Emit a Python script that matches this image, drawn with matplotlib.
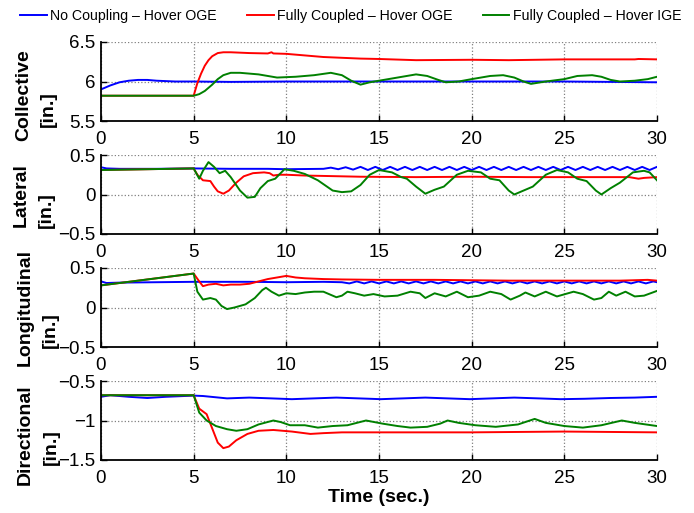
import numpy as np
import matplotlib
matplotlib.use("Agg")
from matplotlib import pyplot as plt

plt.rcParams['font.family'] = ['Liberation Sans', 'DejaVu Sans']

labels = ['No Coupling \u2013 Hover OGE', 'Fully Coupled \u2013 Hover OGE', 'Fully Coupled \u2013 Hover IGE']
colors = ['#0000ff', '#ff0000', '#008000']

# collective
col_t_blue = [0, 0.5, 1, 1.5, 2, 2.5, 3, 4, 5, 7, 10, 15, 20, 25, 30]
col_v_blue = [5.90, 5.95, 5.99, 6.01, 6.02, 6.02, 6.01, 6.0, 6.0, 5.995, 6.0, 6.0, 6.0, 6.0, 5.99]
col_t_red = [0, 5, 5.2, 5.4, 5.6, 5.8, 6.0, 6.3, 6.6, 7, 8, 9, 9.2, 9.3, 10, 11, 12, 13, 14, 15, 17, 20, 22, 25, 28.8, 29, 30]
col_v_red = [5.82, 5.82, 5.98, 6.1, 6.2, 6.27, 6.32, 6.36, 6.37, 6.37, 6.36, 6.355, 6.37, 6.355, 6.35, 6.33, 6.31,
             6.30, 6.29, 6.285, 6.27, 6.275, 6.27, 6.28, 6.28, 6.285, 6.28]
col_t_green = [0, 5, 5.3, 5.6, 6, 6.3, 6.6, 7, 7.5, 8.5, 9, 9.5, 10.5, 11.5, 12.4, 13, 13.5, 14, 14.5, 15.5, 16.5, 17,
               17.6, 18.2, 18.6, 19.3, 20, 21, 21.7, 22.3, 22.8, 23.2, 24, 25, 25.7, 26.5, 27, 27.5, 28, 28.8, 29.5, 30]
col_v_green = [5.82, 5.82, 5.84, 5.88, 5.96, 6.03, 6.08, 6.11, 6.11, 6.09, 6.07, 6.05, 6.06, 6.08, 6.11, 6.08, 6.01,
               5.96, 5.99, 6.03, 6.07, 6.09, 6.07, 6.02, 5.99, 6.0, 6.03, 6.07, 6.08, 6.05, 6.0, 5.97, 6.0, 6.03, 6.07,
               6.08, 6.06, 6.02, 6.0, 6.01, 6.03, 6.06]

# lateral
lat_t_blue = [0, 0.3, 1, 3, 5, 7, 9, 10, 12,
              12.4, 12.8, 13.2, 13.6, 14.0, 14.4, 14.8, 15.2, 15.6, 16.0, 16.4, 16.8, 17.2, 17.6, 18.0, 18.4,
              18.8, 19.2, 19.6, 20.0, 20.4, 20.8, 21.2, 21.6, 22.0, 22.4, 22.8, 23.2, 23.6, 24.0, 24.4, 24.8,
              25.2, 25.6, 26.0, 26.4, 26.8, 27.2, 27.6, 28.0, 28.4, 28.8, 29.2, 29.6, 30.0]
lat_v_blue = [0.345, 0.33, 0.325, 0.325, 0.33, 0.325, 0.325, 0.32, 0.325,
              0.34, 0.32, 0.345, 0.315, 0.35, 0.31, 0.35, 0.31, 0.35, 0.31, 0.35, 0.31, 0.35, 0.31, 0.35, 0.31,
              0.35, 0.31, 0.35, 0.31, 0.35, 0.31, 0.35, 0.31, 0.35, 0.31, 0.35, 0.31, 0.35, 0.31, 0.35, 0.31,
              0.35, 0.31, 0.35, 0.31, 0.35, 0.31, 0.35, 0.31, 0.35, 0.31, 0.35, 0.31, 0.35]
lat_t_red = [0, 5, 5.2, 5.5, 5.9, 6.1, 6.3, 6.6, 6.9, 7.3, 7.7, 8.2, 8.8, 9.1, 9.3, 9.6, 10, 11, 12, 14, 17, 20, 23,
             26, 28.5, 29, 29.3, 30]
lat_v_red = [0.31, 0.33, 0.25, 0.18, 0.17, 0.1, 0.04, 0.01, 0.05, 0.15, 0.23, 0.27, 0.28, 0.27, 0.24, 0.25, 0.25,
             0.24, 0.235, 0.225, 0.22, 0.225, 0.22, 0.22, 0.22, 0.2, 0.21, 0.22]
lat_t_green = [0, 5, 5.3, 5.5, 5.8, 6.1, 6.4, 6.7, 7.0, 7.5, 7.9, 8.3, 8.6, 9.0, 9.4, 9.9, 10.4, 11.0, 11.7, 12.5,
               13.0, 13.5, 14.0, 14.5, 15.0, 15.7, 16.2, 16.5, 17.0, 17.5, 18.0, 18.5, 19.2, 19.8, 20.5, 21.0, 21.5,
               22.0, 22.3, 22.8, 23.3, 24.0, 24.6, 25.2, 25.7, 26.2, 26.7, 27.0, 27.5, 28.0, 28.7, 29.3, 29.6, 30.0]
lat_v_green = [0.31, 0.33, 0.2, 0.3, 0.41, 0.35, 0.27, 0.3, 0.22, 0.05, -0.04, -0.03, 0.08, 0.17, 0.2, 0.32, 0.3,
               0.26, 0.18, 0.05, 0.03, 0.04, 0.12, 0.25, 0.31, 0.28, 0.22, 0.2, 0.1, 0.01, 0.06, 0.1, 0.25, 0.3,
               0.28, 0.2, 0.18, 0.05, 0.0, 0.05, 0.1, 0.25, 0.31, 0.28, 0.2, 0.17, 0.05, 0.0, 0.08, 0.15, 0.28,
               0.3, 0.28, 0.18]

# longitudinal
lon_t_blue = [0, 0.3, 1, 3, 5, 8, 10, 12, 13.0,
              13.4, 13.8, 14.2, 14.6, 15.0, 15.4, 15.8, 16.2, 16.6, 17.0, 17.4, 17.8, 18.2, 18.6, 19.0, 19.4,
              19.8, 20.2, 20.6, 21.0, 21.4, 21.8, 22.2, 22.6, 23.0, 23.4, 23.8, 24.2, 24.6, 25.0, 25.4, 25.8,
              26.2, 26.6, 27.0, 27.4, 27.8, 28.2, 28.6, 29.0, 29.4, 29.8, 30.0]
lon_v_blue = [0.33, 0.31, 0.315, 0.32, 0.325, 0.325, 0.32, 0.325, 0.32,
              0.305, 0.33, 0.305, 0.33, 0.305, 0.33, 0.305, 0.33, 0.305, 0.33, 0.305, 0.33, 0.305, 0.33, 0.305,
              0.33, 0.305, 0.33, 0.305, 0.33, 0.305, 0.33, 0.305, 0.33, 0.305, 0.33, 0.305, 0.33, 0.305, 0.33,
              0.305, 0.33, 0.305, 0.33, 0.305, 0.33, 0.305, 0.33, 0.305, 0.33, 0.305, 0.33, 0.32]
lon_t_red = [0, 5, 5.3, 5.5, 5.8, 6.2, 6.6, 7.0, 7.5, 8.0, 8.5, 9.0, 9.5, 10.0, 10.5, 11, 12, 13, 15, 18, 20, 22,
             25, 28, 29.5, 30]
lon_v_red = [0.28, 0.43, 0.33, 0.27, 0.29, 0.3, 0.28, 0.29, 0.29, 0.3, 0.33, 0.36, 0.38, 0.40, 0.38, 0.37, 0.36,
             0.355, 0.35, 0.35, 0.345, 0.34, 0.34, 0.34, 0.35, 0.34]
lon_t_green = [0, 5, 5.2, 5.5, 5.9, 6.2, 6.5, 6.8, 7.2, 7.8, 8.3, 8.7, 8.9, 9.2, 9.6, 10.0, 10.5, 11.0, 11.5, 12.0,
               12.7, 13.0, 13.3, 13.7, 14.2, 14.7, 15.3, 16.0, 16.7, 17.2, 17.5, 18.0, 18.6, 19.2, 19.8, 20.4,
               21.0, 21.6, 22.1, 22.6, 22.9, 23.4, 24.0, 24.6, 25.5, 26.0, 26.6, 27.0, 27.4, 27.8, 28.3, 28.8,
               29.3, 30.0]
lon_v_green = [0.28, 0.43, 0.2, 0.1, 0.12, 0.1, 0.02, -0.02, 0.0, 0.04, 0.12, 0.22, 0.25, 0.2, 0.15, 0.18, 0.17,
               0.19, 0.2, 0.2, 0.13, 0.15, 0.2, 0.18, 0.15, 0.17, 0.14, 0.15, 0.2, 0.18, 0.12, 0.18, 0.14, 0.2,
               0.13, 0.15, 0.2, 0.17, 0.1, 0.15, 0.19, 0.14, 0.2, 0.14, 0.2, 0.17, 0.1, 0.12, 0.2, 0.15, 0.2, 0.14,
               0.15, 0.21]

# directional
dir_t_blue = [0, 0.5, 1.5, 2.5, 3.5, 5, 5.5, 6.8, 8.0, 9.2, 10.3, 11.5, 12.7, 13.9, 15.1, 16.3, 17.5, 18.7, 19.9,
              21.1, 22.3, 23.6, 24.8, 26.1, 27.5, 28.8, 30]
dir_v_blue = [-0.70, -0.68, -0.70, -0.715, -0.70, -0.685, -0.69, -0.72, -0.71, -0.72, -0.73, -0.72, -0.71, -0.72,
              -0.73, -0.72, -0.71, -0.72, -0.73, -0.72, -0.71, -0.72, -0.73, -0.725, -0.715, -0.71, -0.70]
dir_t_red = [0, 5, 5.3, 5.7, 6.0, 6.3, 6.6, 6.9, 7.3, 7.9, 8.5, 9.3, 10.3, 11.3, 12, 13, 15, 20, 25, 30]
dir_v_red = [-0.68, -0.68, -0.85, -0.92, -1.1, -1.28, -1.35, -1.33, -1.25, -1.17, -1.13, -1.12, -1.14, -1.17,
             -1.16, -1.15, -1.15, -1.15, -1.14, -1.15]
dir_t_green = [0, 5, 5.3, 5.7, 6.2, 6.8, 7.3, 7.9, 8.5, 9.3, 9.7, 10.2, 11, 11.7, 12.5, 13.3, 14.3, 15.2, 16, 16.7,
               17.6, 18.3, 18.7, 19.3, 20.2, 21.3, 22.5, 23.4, 24, 25, 26, 27, 28.1, 28.8, 30]
dir_v_green = [-0.68, -0.68, -0.9, -1.0, -1.07, -1.11, -1.13, -1.11, -1.05, -1.0, -1.02, -1.06, -1.06, -1.09, -1.07,
               -1.06, -1.0, -1.04, -1.07, -1.09, -1.08, -1.04, -1.0, -1.03, -1.06, -1.08, -1.05, -0.98, -1.03,
               -1.07, -1.09, -1.06, -1.0, -1.03, -1.07]

names = ['Collective', 'Lateral', 'Longitudinal', 'Directional']
ylims = [(5.5, 6.5), (-0.5, 0.5), (-0.5, 0.5), (-1.5, -0.5)]
yticks = [[5.5, 6, 6.5], [-0.5, 0, 0.5], [-0.5, 0, 0.5], [-1.5, -1, -0.5]]
series = [
    [(col_t_blue, col_v_blue), (col_t_red, col_v_red), (col_t_green, col_v_green)],
    [(lat_t_blue, lat_v_blue), (lat_t_red, lat_v_red), (lat_t_green, lat_v_green)],
    [(lon_t_blue, lon_v_blue), (lon_t_red, lon_v_red), (lon_t_green, lon_v_green)],
    [(dir_t_blue, dir_v_blue), (dir_t_red, dir_v_red), (dir_t_green, dir_v_green)],
]

W, H = 694, 513
fig = plt.figure(figsize=(W / 100, H / 100), dpi=100)
left, right = 101, 657
tops = [42, 155, 268, 381]
ph = 79
# pixel centres of the two label lines (word, unit) for each panel
name_pos = [(24, 95), (21, 195), (25, 308), (25, 435)]
unit_pos = [(48, 109), (46, 210), (50, 330), (51, 447)]

axes = []
for i in range(4):
    ax = fig.add_axes([left / W, 1 - (tops[i] + ph) / H, (right - left) / W, ph / H])
    for (t, v), c, lab in zip(series[i], colors, labels):
        ax.plot(t, v, color=c, lw=1.4, label=lab)
    ax.set_xlim(0, 30)
    ax.set_ylim(*ylims[i])
    ax.set_xticks(range(0, 31, 5))
    ax.set_yticks(yticks[i])
    ax.set_yticklabels([('%g' % y).replace('-', '\u2212') for y in yticks[i]])
    ax.grid(True, linestyle=':', color='#808080', linewidth=0.9)
    ax.spines['top'].set_visible(False)
    ax.spines['right'].set_visible(False)
    ax.spines['left'].set_linewidth(1.3)
    ax.spines['bottom'].set_linewidth(1.3)
    ax.tick_params(direction='in', length=4, width=1, labelsize=13.5, pad=4)
    ax.tick_params(axis='x', pad=7)
    fig.text(name_pos[i][0] / W, 1 - name_pos[i][1] / H, names[i], rotation=90, ha='center', va='center',
             fontsize=14, fontweight='bold')
    fig.text(unit_pos[i][0] / W, 1 - unit_pos[i][1] / H, '[in.]', rotation=90, ha='center', va='center',
             fontsize=14, fontweight='bold')
    axes.append(ax)

axes[-1].set_xlabel('Time (sec.)', fontsize=14, fontweight='bold', labelpad=2)

fig.legend(*axes[0].get_legend_handles_labels(), loc='center left', bbox_to_anchor=(20 / W, 1 - 16 / H),
           ncol=3, frameon=False, fontsize=10.2, handlelength=1.9, handletextpad=0.25, columnspacing=2.1,
           borderpad=0, borderaxespad=0)

fig.savefig('out.png', dpi=100)
